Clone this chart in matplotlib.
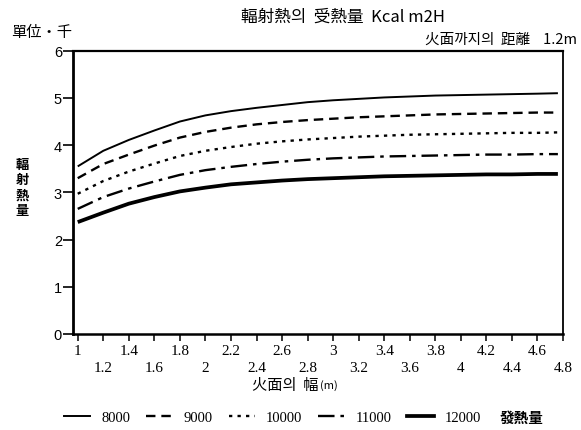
import matplotlib
matplotlib.use('Agg')
import matplotlib.pyplot as plt
from matplotlib.lines import Line2D

# ---- data ----
width_m = [1.0, 1.2, 1.4, 1.6, 1.8, 2.0, 2.2, 2.4, 2.6, 2.8, 3.0,
           3.2, 3.4, 3.6, 3.8, 4.0, 4.2, 4.4, 4.6, 4.76]
heat_8000 = [3.55, 3.88, 4.11, 4.31, 4.50, 4.63, 4.72, 4.79, 4.85, 4.91, 4.95,
             4.98, 5.01, 5.03, 5.05, 5.06, 5.07, 5.08, 5.09, 5.10]
heat_9000 = [3.30, 3.60, 3.80, 3.99, 4.16, 4.28, 4.37, 4.44, 4.49, 4.53, 4.56,
             4.59, 4.61, 4.63, 4.65, 4.66, 4.67, 4.68, 4.69, 4.69]
heat_10000 = [2.97, 3.24, 3.44, 3.61, 3.77, 3.88, 3.96, 4.03, 4.08, 4.12, 4.15,
              4.18, 4.20, 4.22, 4.23, 4.24, 4.25, 4.26, 4.26, 4.27]
heat_11000 = [2.65, 2.90, 3.08, 3.23, 3.37, 3.47, 3.54, 3.60, 3.65, 3.69, 3.72,
              3.74, 3.76, 3.77, 3.78, 3.79, 3.80, 3.80, 3.81, 3.81]
heat_12000 = [2.37, 2.57, 2.76, 2.90, 3.02, 3.10, 3.17, 3.21, 3.25, 3.28, 3.30,
              3.32, 3.34, 3.35, 3.36, 3.37, 3.38, 3.38, 3.39, 3.39]
series_labels = ['8000', '9000', '10000', '11000', '12000']

xticks_row1 = [1.0, 1.4, 1.8, 2.2, 2.6, 3.0, 3.4, 3.8, 4.2, 4.6]
xlabels_row1 = ['1', '1.4', '1.8', '2.2', '2.6', '3', '3.4', '3.8', '4.2', '4.6']
xticks_row2 = [1.2, 1.6, 2.0, 2.4, 2.8, 3.2, 3.6, 4.0, 4.4, 4.8]
xlabels_row2 = ['1.2', '1.6', '2', '2.4', '2.8', '3.2', '3.6', '4', '4.4', '4.8']
yticks = [0, 1, 2, 3, 4, 5, 6]
ylabels = ['0', '1', '2', '3', '4', '5', '6']

title_text = '輻射熱의  受熱量  Kcal m2H'
subtitle_text = '火面까지의  距離    1.2m'
unit_text = '單位・千'
ylabel_text = '輻射熱量'
xlabel_main = '火面의  幅'
xlabel_unit = '(m)'
legend_suffix = '發熱量'

# ---- figure ----
W, H = 581, 431
fig = plt.figure(figsize=(W / 100, H / 100), dpi=100)
ax = fig.add_axes([73 / W, 1 - 335 / H, (563 - 73) / W, (335 - 51.7) / H])

cjk = ['Noto Sans CJK KR', 'DejaVu Sans']
serif = 'Liberation Serif'

series = [heat_8000, heat_9000, heat_10000, heat_11000, heat_12000]
styles = [dict(ls='-', lw=1.4),
          dict(ls=(0, (4, 2.5)), lw=1.7),
          dict(ls=(0, (1.4, 2.2)), lw=1.7),
          dict(ls=(0, (7, 2.5, 1.5, 2.5)), lw=1.7),
          dict(ls='-', lw=2.7)]
handles = []
for vals, st in zip(series, styles):
    ax.plot(width_m, vals, color='black', solid_capstyle='butt', **st)
    handles.append(Line2D([], [], color='black', **st))

ax.set_xlim(0.963, 4.8)
ax.set_ylim(0, 6)

ax.set_yticks(yticks)
ax.set_yticklabels(ylabels, fontsize=10.5, family='Liberation Sans')
ax.tick_params(axis='y', direction='out', length=7, width=1.2, pad=1)

ax.set_xticks(xticks_row1)
ax.set_xticklabels(xlabels_row1, fontsize=11, family=serif)
ax.set_xticks(xticks_row2, minor=True)
ax.set_xticklabels(xlabels_row2, minor=True, fontsize=11, family=serif)
ax.tick_params(axis='x', which='major', direction='out', length=5, width=1.1, pad=2)
ax.tick_params(axis='x', which='minor', direction='out', length=5, width=1.1, pad=14.5)

for side, lw in [('left', 2.0), ('bottom', 1.8), ('top', 1.6), ('right', 1.3)]:
    ax.spines[side].set_linewidth(lw)

# ---- texts ----
fig.text(343 / W, 1 - 17 / H, title_text, family=cjk, fontsize=12,
         ha='center', va='center')
fig.text(577 / W, 1 - 40 / H, subtitle_text, family=cjk, fontsize=10.5,
         ha='right', va='center')
fig.text(11 / W, 1 - 33 / H, unit_text, family=cjk, fontsize=11,
         ha='left', va='center')
fig.text(22 / W, 1 - 188 / H, '\n'.join(ylabel_text), family=cjk, fontsize=9.5,
         ha='center', va='center', linespacing=1.1, fontweight='bold')
fig.text(318 / W, 1 - 386 / H, xlabel_main, family=cjk, fontsize=11,
         ha='right', va='center')
fig.text(320 / W, 1 - 386 / H, xlabel_unit, family=cjk, fontsize=8,
         ha='left', va='center')

fig.legend(handles, series_labels, loc='center left',
           bbox_to_anchor=(64 / W, 1 - 418 / H), ncol=5, frameon=False,
           prop={'family': serif, 'size': 10.5}, handlelength=1.8,
           handletextpad=0.75, columnspacing=1.1, borderaxespad=0,
           borderpad=0)
fig.text(500 / W, 1 - 418 / H, legend_suffix, family=cjk, fontsize=10.5,
         ha='left', va='center', fontweight='bold')

fig.savefig('out.png', dpi=100)
